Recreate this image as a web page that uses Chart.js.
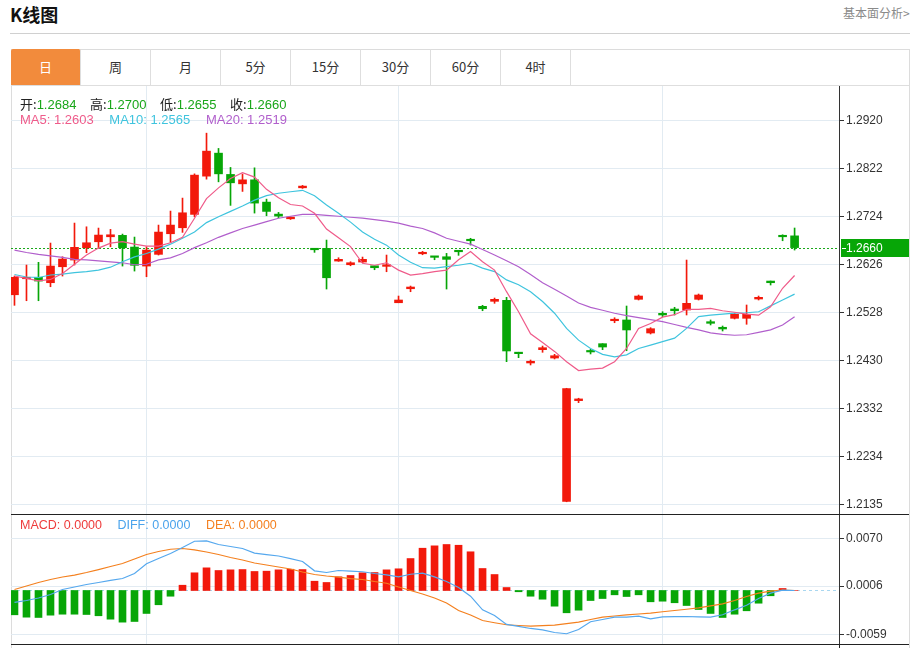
<!DOCTYPE html>
<html>
<head>
<meta charset="utf-8">
<script src="https://cdn.jsdelivr.net/npm/chart.js@4/dist/chart.umd.min.js"></script>
<style>
  body { margin: 0; background: #fff; font-family: "Liberation Sans", Arial, "Noto Sans CJK SC", sans-serif; }
  #page { position: relative; width: 917px; height: 648px; overflow: hidden; }
  .abs { position: absolute; }
  .title { left: 10px; top: 1px; font-size: 18px; font-weight: bold; color: #111; font-family: "Noto Sans CJK SC", sans-serif; }
  .more { left: 843px; top: 4px; font-size: 12px; color: #8a8a8a; font-family: "Noto Sans CJK SC", sans-serif; }
  .hr { left: 10px; top: 33px; width: 900px; height: 1px; background: #d0d0d0; }
  .frame { left: 11px; top: 49px; width: 897px; height: 610px; border: 1px solid #dcdcdc; }
  .tabs { left: 11px; top: 49px; height: 36px; display: flex; }
  .tab { width: 69px; height: 36px; line-height: 36px; text-align: center; font-size: 13px; color: #333;
         border-right: 1px solid #dedede; font-family: "Noto Sans CJK SC", sans-serif; }
  .tab.on { background: #f28b3c; color: #fff; border-radius: 2px 2px 0 0; }
  .tabline { left: 11px; top: 85px; width: 898px; height: 1px; background: #dedede; }
  .info { left: 20px; font-size: 13px; white-space: nowrap; }
  .info span { margin-right: 10px; }
  .k { color: #222; font-family: "Noto Sans CJK SC", sans-serif; }
  .g { color: #19a619; }
  .blk { left: 11px; width: 898px; height: 1px; background: #222; }
  #mainBox { left: 11px; top: 86px; width: 898px; height: 428px; }
  #macdBox { left: 11px; top: 515px; width: 898px; height: 129px; }
</style>
</head>
<body>
<div id="page">
  <div class="abs title">K线图</div>
  <div class="abs more">基本面分析&gt;</div>
  <div class="abs hr"></div>
  <div class="abs frame"></div>
  <div class="abs tabs" id="tabs"></div>
  <div class="abs tabline"></div>
  <div class="abs" id="mainBox"><canvas id="main"></canvas></div>
  <div class="abs blk" style="top:514px"></div>
  <div class="abs" id="macdBox"><canvas id="macd"></canvas></div>
  <div class="abs blk" style="top:644px"></div>
  <div class="abs" style="left:839px;top:644px;width:1px;height:4px;background:#222"></div>
  <div class="abs info" style="top:94px">
    <span><b class="k" style="font-weight:normal">开:</b><i class="g" style="font-style:normal" id="vO"></i></span>
    <span><b class="k" style="font-weight:normal">高:</b><i class="g" style="font-style:normal" id="vH"></i></span>
    <span><b class="k" style="font-weight:normal">低:</b><i class="g" style="font-style:normal" id="vL"></i></span>
    <span><b class="k" style="font-weight:normal">收:</b><i class="g" style="font-style:normal" id="vC"></i></span>
  </div>
  <div class="abs info" style="top:112px">
    <span style="color:#ef5b8a;margin-right:12px" id="t5"></span>
    <span style="color:#3fc4de;margin-right:12px" id="t10"></span>
    <span style="color:#b15fcc" id="t20"></span>
  </div>
  <div class="abs info" style="top:518px;font-size:12.5px">
    <span style="color:#ee3b3b;margin-right:12px">MACD: 0.0000</span>
    <span style="color:#4aa3ec;margin-right:12px">DIFF: 0.0000</span>
    <span style="color:#f4801f">DEA: 0.0000</span>
  </div>
</div>
<script>
const tabLabels = ['日', '周', '月', '5分', '15分', '30分', '60分', '4时'];
const priceTicks = [1.2135, 1.2234, 1.2332, 1.2430, 1.2528, 1.2626, 1.2724, 1.2822, 1.2920];
const macdTicks = [-0.0059, 0.0006, 0.0070];
const gridIdx = [11, 32, 54];

const opens = [1.25637, 1.25964, 1.25993, 1.25883, 1.26209, 1.26346, 1.26597, 1.26719, 1.26821, 1.26850,
  1.26611, 1.26223, 1.26462, 1.26883, 1.27005, 1.27278, 1.28059, 1.28529, 1.28094, 1.27902,
  1.27984, 1.27529, 1.27284, 1.27188, 1.27821, 1.26584, 1.26584, 1.26325, 1.26250, 1.26305,
  1.26229, 1.26217, 1.25474, 1.25760, 1.26474, 1.26421, 1.26413, 1.26544, 1.26768, 1.25401,
  1.25503, 1.25523, 1.24463, 1.24244, 1.24516, 1.24345, 1.21415, 1.23475, 1.24494, 1.24638,
  1.25107, 1.25122, 1.25544, 1.24856, 1.25258, 1.25346, 1.25326, 1.25544, 1.25087, 1.24973,
  1.25156, 1.25156, 1.25550, 1.25917, 1.26850, 1.2684];
const highs = [1.26019, 1.26244, 1.26299, 1.26693, 1.26413, 1.27101, 1.27025, 1.26999, 1.26972, 1.26876,
  1.26815, 1.26617, 1.27060, 1.27346, 1.27611, 1.28106, 1.28937, 1.28625, 1.28237, 1.28100,
  1.28229, 1.27590, 1.27319, 1.27230, 1.27870, 1.26584, 1.26754, 1.26393, 1.26311, 1.26407,
  1.26229, 1.26448, 1.25611, 1.25815, 1.26523, 1.26421, 1.26482, 1.26544, 1.26790, 1.25421,
  1.25570, 1.25585, 1.24463, 1.24305, 1.24590, 1.24421, 1.23727, 1.23524, 1.24523, 1.24638,
  1.25168, 1.25407, 1.25632, 1.24965, 1.25291, 1.25381, 1.26346, 1.25652, 1.25122, 1.24999,
  1.25258, 1.25428, 1.25611, 1.25917, 1.26862, 1.2700];
const lows = [1.25421, 1.25515, 1.25515, 1.25801, 1.26019, 1.26244, 1.26495, 1.26584, 1.26617, 1.26223,
  1.26121, 1.26005, 1.26448, 1.26707, 1.26911, 1.27229, 1.27998, 1.27943, 1.27462, 1.27747,
  1.27305, 1.27250, 1.27209, 1.27175, 1.27809, 1.26503, 1.25754, 1.26319, 1.26229, 1.26291,
  1.26148, 1.26107, 1.25474, 1.25699, 1.26454, 1.26352, 1.25754, 1.26442, 1.26652, 1.25311,
  1.25462, 1.24271, 1.24352, 1.24203, 1.24462, 1.24326, 1.21410, 1.23434, 1.24428, 1.24516,
  1.25066, 1.24494, 1.25530, 1.24836, 1.25189, 1.25224, 1.25224, 1.25530, 1.25020, 1.24897,
  1.25142, 1.25034, 1.25530, 1.25836, 1.26740, 1.2655];
const closes = [1.25993, 1.25993, 1.25917, 1.26223, 1.26366, 1.26605, 1.26699, 1.26856, 1.26862, 1.26597,
  1.26238, 1.26550, 1.26917, 1.27060, 1.27311, 1.28080, 1.28570, 1.28106, 1.27923, 1.27984,
  1.27509, 1.27339, 1.27243, 1.27223, 1.27856, 1.26556, 1.25984, 1.26360, 1.26291, 1.26360,
  1.26189, 1.26250, 1.25530, 1.25795, 1.26503, 1.26401, 1.26360, 1.26515, 1.26740, 1.25352,
  1.25544, 1.24489, 1.24434, 1.24279, 1.24556, 1.24392, 1.23720, 1.23510, 1.24469, 1.24570,
  1.25128, 1.24918, 1.25611, 1.24944, 1.25224, 1.25311, 1.25462, 1.25632, 1.25054, 1.24938,
  1.25238, 1.25238, 1.25585, 1.25883, 1.26821, 1.2660];

const ma5 = [1.2602, 1.2597, 1.2592, 1.2595, 1.2607, 1.2626, 1.2645, 1.2659, 1.2669, 1.2672,
  1.2667, 1.2663, 1.2663, 1.2670, 1.2681, 1.2720, 1.2760, 1.2782, 1.2801, 1.2813,
  1.2804, 1.2779, 1.2762, 1.2748, 1.2745, 1.2730, 1.2698, 1.2680, 1.2662, 1.2628,
  1.2624, 1.2629, 1.2614, 1.2604, 1.2607, 1.2611, 1.2614, 1.2635, 1.2652, 1.2631,
  1.2614, 1.2570, 1.2529, 1.2484, 1.2466, 1.2448, 1.2427, 1.2409, 1.2412, 1.2414,
  1.2427, 1.2454, 1.2495, 1.2505, 1.2518, 1.2523, 1.2534, 1.2534, 1.2536, 1.2531,
  1.2528, 1.2524, 1.2522, 1.2539, 1.2577, 1.2603];
const ma10 = [1.2605, 1.2600, 1.2599, 1.2604, 1.2606, 1.2609, 1.2611, 1.2614, 1.2620, 1.2631,
  1.2641, 1.2648, 1.2657, 1.2667, 1.2679, 1.2692, 1.2711, 1.2723, 1.2734, 1.2745,
  1.2757, 1.2766, 1.2771, 1.2774, 1.2777, 1.2766, 1.2747, 1.2730, 1.2712, 1.2692,
  1.2677, 1.2665, 1.2645, 1.2630, 1.2619, 1.2618, 1.2621, 1.2624, 1.2628, 1.2618,
  1.2611, 1.2594, 1.2584, 1.2570, 1.2550, 1.2526, 1.2495, 1.2471, 1.2454, 1.2442,
  1.2437, 1.2441, 1.2454, 1.2461, 1.2468, 1.2475, 1.2495, 1.2519, 1.2522, 1.2524,
  1.2526, 1.2527, 1.2529, 1.2541, 1.2553, 1.2565];
const ma20 = [1.2655, 1.2650, 1.2646, 1.2643, 1.2640, 1.2636, 1.2635, 1.2633, 1.2631, 1.2629,
  1.2625, 1.2626, 1.2635, 1.2639, 1.2648, 1.2660, 1.2670, 1.2681, 1.2690, 1.2699,
  1.2706, 1.2713, 1.2720, 1.2724, 1.2728, 1.2728, 1.2726, 1.2724, 1.2722, 1.2720,
  1.2717, 1.2714, 1.2710, 1.2704, 1.2699, 1.2690, 1.2679, 1.2673, 1.2667, 1.2656,
  1.2645, 1.2633, 1.2621, 1.2605, 1.2588, 1.2575, 1.2561, 1.2547, 1.2538, 1.2532,
  1.2526, 1.2521, 1.2517, 1.2513, 1.2509, 1.2503, 1.2497, 1.2492, 1.2486, 1.2483,
  1.2481, 1.2482, 1.2487, 1.2492, 1.2502, 1.2519];

const macd = [-0.00327, -0.00359, -0.00363, -0.00332, -0.00319, -0.00319, -0.00323, -0.00340, -0.00386, -0.00426,
  -0.00417, -0.00309, -0.00192, -0.00077, 0.00071, 0.00238, 0.00305, 0.00269, 0.00278, 0.00282,
  0.00256, 0.00260, 0.00278, 0.00286, 0.00282, 0.00125, 0.00108, 0.00184, 0.00202, 0.00238,
  0.00242, 0.00278, 0.00292, 0.00430, 0.00569, 0.00601, 0.00619, 0.00609, 0.00521, 0.00296,
  0.00215, 0.00040, -0.00017, -0.00077, -0.00117, -0.00211, -0.00300, -0.00265, -0.00135, -0.00108,
  -0.00058, -0.00081, -0.00058, -0.00152, -0.00144, -0.00165, -0.00202, -0.00256, -0.00309, -0.00363,
  -0.00319, -0.00273, -0.00171, -0.00071, 0.00027, 0];
const diff = [-0.00161, -0.00135, -0.00101, -0.00054, 0.00013, 0.00047, 0.00081, 0.00108, 0.00135, 0.00161,
  0.00229, 0.00359, 0.00430, 0.00498, 0.00578, 0.00663, 0.00668, 0.00619, 0.00592, 0.00565,
  0.00504, 0.00484, 0.00464, 0.00430, 0.00390, 0.00265, 0.00242, 0.00269, 0.00262, 0.00252,
  0.00229, 0.00211, 0.00184, 0.00219, 0.00233, 0.00184, 0.00121, 0.00040, -0.00077, -0.00260,
  -0.00336, -0.00457, -0.00484, -0.00511, -0.00529, -0.00565, -0.00582, -0.00525, -0.00421, -0.00390,
  -0.00359, -0.00359, -0.00346, -0.00381, -0.00354, -0.00352, -0.00350, -0.00354, -0.00359, -0.00327,
  -0.00260, -0.00198, -0.00108, -0.00036, 0.00004, 0];
const dea = [0.00013, 0.00061, 0.00108, 0.00148, 0.00182, 0.00208, 0.00242, 0.00282, 0.00323, 0.00363,
  0.00424, 0.00484, 0.00525, 0.00555, 0.00565, 0.00547, 0.00518, 0.00484, 0.00444, 0.00410,
  0.00370, 0.00343, 0.00316, 0.00289, 0.00249, 0.00215, 0.00195, 0.00179, 0.00161, 0.00148,
  0.00121, 0.00098, 0.00047, 0, -0.00047, -0.00101, -0.00168, -0.00269, -0.00330, -0.00404,
  -0.00434, -0.00461, -0.00471, -0.00480, -0.00473, -0.00467, -0.00447, -0.00426, -0.00390, -0.00359,
  -0.00343, -0.00327, -0.00316, -0.00305, -0.00286, -0.00269, -0.00252, -0.00233, -0.00206, -0.00179,
  -0.00135, -0.00081, -0.00036, -0.00009, 0.00004, 0];

const RED = '#f2190b';
const GREEN = '#07a607';
const GRID = '#e2ebf2';
const FONT = '"Liberation Sans", Arial, sans-serif';

// header texts
const tabs = document.getElementById('tabs');
tabLabels.forEach((t, i) => {
  const d = document.createElement('div');
  d.className = 'tab' + (i === 0 ? ' on' : '');
  d.textContent = t;
  tabs.appendChild(d);
});
const n = closes.length;
document.getElementById('vO').textContent = opens[n - 1].toFixed(4);
document.getElementById('vH').textContent = highs[n - 1].toFixed(4);
document.getElementById('vL').textContent = lows[n - 1].toFixed(4);
document.getElementById('vC').textContent = closes[n - 1].toFixed(4);
document.getElementById('t5').textContent = 'MA5: ' + ma5[n - 1].toFixed(4);
document.getElementById('t10').textContent = 'MA10: ' + ma10[n - 1].toFixed(4);
document.getElementById('t20').textContent = 'MA20: ' + ma20[n - 1].toFixed(4);

const xMin = -0.29, xMax = 68.7;
const colors = closes.map((c, i) => c >= opens[i] ? RED : GREEN);
const pts = arr => arr.map((v, i) => ({ x: i, y: v }));

function xScale() {
  return {
    type: 'linear', min: xMin, max: xMax, offset: false,
    grid: { color: GRID, drawTicks: false, offset: false },
    border: { display: false },
    ticks: { display: false },
    afterBuildTicks: s => { s.ticks = gridIdx.map(v => ({ value: v })); },
    afterFit: s => { s.height = 0; s.paddingLeft = 0; s.paddingRight = 0; }
  };
}
function yScale(min, max, ticks) {
  return {
    position: 'right', min: min, max: max,
    grid: { color: GRID, tickColor: '#333', tickLength: 5 },
    border: { color: '#333' },
    ticks: { color: '#333', padding: 2, font: { size: 12, family: FONT }, callback: v => v.toFixed(4) },
    afterBuildTicks: s => { s.ticks = ticks.map(v => ({ value: v })); },
    afterFit: s => { s.width = 70; s.paddingTop = 0; s.paddingBottom = 0; }
  };
}
function line(data, color, order) {
  return { type: 'line', data: pts(data), borderColor: color, borderWidth: 1.2, pointRadius: 0, tension: 0, order: order };
}

const priceLine = {
  id: 'priceLine',
  beforeDatasetsDraw(chart) {
    const { ctx, chartArea, scales } = chart;
    const py = Math.round(scales.y.getPixelForValue(closes[n - 1])) + 0.5;
    ctx.save();
    ctx.strokeStyle = '#1aa81a';
    ctx.lineWidth = 1;
    ctx.setLineDash([2, 2]);
    ctx.beginPath();
    ctx.moveTo(chartArea.left, py);
    ctx.lineTo(chartArea.right, py);
    ctx.stroke();
    ctx.restore();
  },
  afterDraw(chart) {
    const { ctx, chartArea, scales } = chart;
    const py = Math.round(scales.y.getPixelForValue(closes[n - 1]));
    ctx.save();
    ctx.fillStyle = '#07a607';
    ctx.fillRect(chartArea.right + 2, py - 9, chart.width - chartArea.right - 2, 18);
    ctx.fillStyle = '#fff';
    ctx.fillRect(chartArea.right + 3, py, 4, 1);
    ctx.font = '12px ' + FONT;
    ctx.textBaseline = 'middle';
    ctx.fillText(closes[n - 1].toFixed(4), chartArea.right + 7, py + 1);
    ctx.restore();
  }
};

new Chart(document.getElementById('main'), {
  type: 'bar',
  data: {
    datasets: [
      line(ma5, '#ef5b8a', 0),
      line(ma10, '#3fc4de', 0),
      line(ma20, '#b15fcc', 0),
      { data: opens.map((o, i) => ({ x: i, y: [o, closes[i]] })), backgroundColor: colors,
        barThickness: 8, minBarLength: 1.5, grouped: false, borderWidth: 0, order: 1 },
      { data: opens.map((o, i) => ({ x: i, y: [lows[i], highs[i]] })), backgroundColor: colors,
        barThickness: 1, grouped: false, borderWidth: 0, order: 2 }
    ]
  },
  options: {
    responsive: true,
    maintainAspectRatio: false,
    animation: false,
    layout: { padding: 0 },
    plugins: { legend: { display: false }, tooltip: { enabled: false } },
    scales: { x: xScale(), y: yScale(1.2116, 1.2990, priceTicks) }
  },
  plugins: [priceLine]
});

const zeroLine = {
  id: 'zeroLine',
  beforeDatasetsDraw(chart) {
    const { ctx, chartArea, scales } = chart;
    const py = Math.round(scales.y.getPixelForValue(0)) + 0.5;
    ctx.save();
    ctx.strokeStyle = '#a9d7f0';
    ctx.lineWidth = 1;
    ctx.setLineDash([3, 3]);
    ctx.beginPath();
    ctx.moveTo(chartArea.left, py);
    ctx.lineTo(chartArea.right, py);
    ctx.stroke();
    ctx.restore();
  }
};

new Chart(document.getElementById('macd'), {
  type: 'bar',
  data: {
    datasets: [
      line(diff, '#55a8ee', 0),
      line(dea, '#f4801f', 0),
      { data: pts(macd), backgroundColor: macd.map(v => v >= 0 ? RED : GREEN),
        barThickness: 7, grouped: false, borderWidth: 0, order: 1 }
    ]
  },
  options: {
    responsive: true,
    maintainAspectRatio: false,
    animation: false,
    layout: { padding: 0 },
    plugins: { legend: { display: false }, tooltip: { enabled: false } },
    scales: { x: xScale(), y: yScale(-0.0072, 0.01016, macdTicks) }
  },
  plugins: [zeroLine]
});
</script>
</body>
</html>
